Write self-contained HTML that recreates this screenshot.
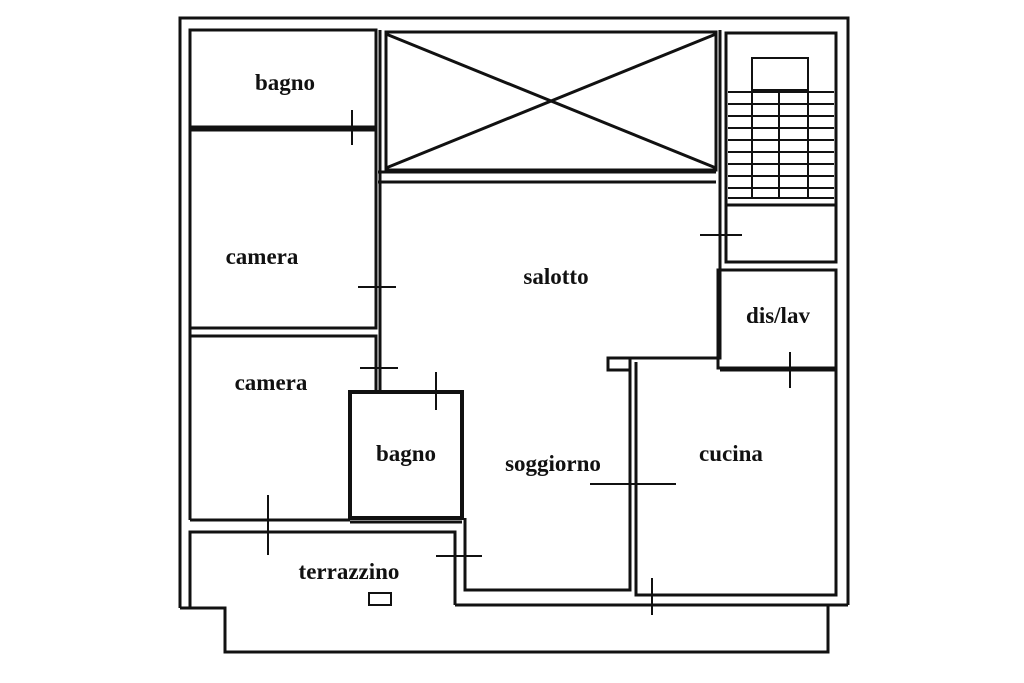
<!DOCTYPE html>
<html><head><style>
html,body{margin:0;padding:0;background:#fff;}
svg{display:block}
text{font-family:"Liberation Serif",serif;font-weight:bold;font-size:23px;fill:#111;text-anchor:middle}
</style></head><body>
<svg width="1024" height="683" viewBox="0 0 1024 683" xmlns="http://www.w3.org/2000/svg">
<g stroke="#111" fill="none" stroke-width="3">
<!-- outer -->
<polyline points="180,608 180,18 848,18 848,605"/>
<polyline points="180,608 225,608 225,652 828,652 828,605"/>
<line x1="455" y1="605" x2="848" y2="605"/>
<line x1="190" y1="30" x2="190" y2="520"/>
<!-- left rooms -->
<rect x="190" y="30" width="186" height="97"/>
<rect x="190" y="130" width="186" height="198"/>
<polyline points="190,336 376,336 376,392"/>
<line x1="190" y1="520" x2="350" y2="520"/>
<line x1="350" y1="522" x2="462" y2="522"/>
<polyline points="190,608 190,532 455,532 455,605"/>
<!-- void -->
<rect x="386" y="32" width="330" height="138"/>
<line x1="386" y1="34" x2="716" y2="168"/>
<line x1="386" y1="168" x2="716" y2="34"/>
<polyline points="378,182 716,182"/>
<line x1="378" y1="172" x2="716" y2="172"/>
<line x1="380" y1="30" x2="380" y2="392"/>
<!-- bagno 2 -->
<rect x="350" y="392" width="112" height="126" stroke-width="4"/>
<!-- soggiorno -->
<polyline points="465,518 465,590 630,590 630,358 720,358 720,30"/>
<polyline points="630,358 608,358 608,370 630,370"/>
<!-- cucina, dis/lav -->
<polyline points="636,362 636,595 836,595 836,370 720,370"/>
<rect x="718" y="270" width="118" height="98"/>
<rect x="726" y="33" width="110" height="229"/>
<line x1="726" y1="205" x2="836" y2="205"/>
<rect x="752" y="58" width="56" height="32" stroke-width="2"/>
</g>
<g stroke="#111" stroke-width="2">
<line x1="728" y1="92" x2="834" y2="92"/><line x1="728" y1="104" x2="834" y2="104"/>
<line x1="728" y1="116" x2="834" y2="116"/><line x1="728" y1="128" x2="834" y2="128"/>
<line x1="728" y1="140" x2="834" y2="140"/><line x1="728" y1="152" x2="834" y2="152"/>
<line x1="728" y1="164" x2="834" y2="164"/><line x1="728" y1="176" x2="834" y2="176"/>
<line x1="728" y1="188" x2="834" y2="188"/><line x1="728" y1="198" x2="834" y2="198"/>
<line x1="752" y1="90" x2="752" y2="198"/><line x1="779" y1="90" x2="779" y2="198"/><line x1="808" y1="90" x2="808" y2="198"/>
<!-- door ticks -->
<line x1="352" y1="110" x2="352" y2="145"/><line x1="340" y1="127" x2="372" y2="127"/>
<line x1="358" y1="287" x2="396" y2="287"/>
<line x1="700" y1="235" x2="742" y2="235"/>
<line x1="360" y1="368" x2="398" y2="368"/>
<line x1="436" y1="372" x2="436" y2="410"/>
<line x1="790" y1="352" x2="790" y2="388"/>
<line x1="590" y1="484" x2="676" y2="484"/>
<line x1="268" y1="495" x2="268" y2="555"/>
<line x1="436" y1="556" x2="482" y2="556"/>
<line x1="652" y1="578" x2="652" y2="615"/>
<rect x="369" y="593" width="22" height="12" fill="none"/>
</g>
<text x="285" y="90">bagno</text>
<text x="262" y="264">camera</text>
<text x="556" y="284">salotto</text>
<text x="778" y="323">dis/lav</text>
<text x="271" y="390">camera</text>
<text x="406" y="461">bagno</text>
<text x="553" y="471">soggiorno</text>
<text x="731" y="461">cucina</text>
<text x="349" y="579">terrazzino</text>
</svg>
</body></html>
